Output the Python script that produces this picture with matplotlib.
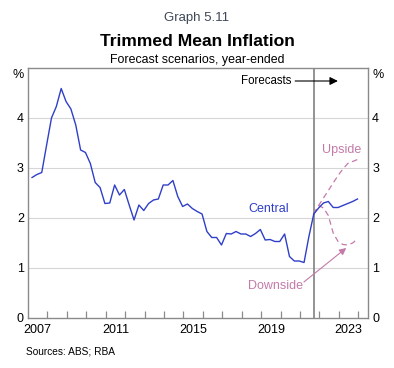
import numpy as np
import pandas as pd
import matplotlib
matplotlib.use('Agg')
from matplotlib import pyplot as plt

plt.rcParams['font.family'] = ['Liberation Sans', 'DejaVu Sans']

# year-ended trimmed mean inflation, quarterly, Mar 2007 - Sep 2021
hist_values = [2.81, 2.87, 2.91, 3.46,
               4.00, 4.23, 4.59, 4.33,
               4.18, 3.86, 3.36, 3.31,
               3.09, 2.71, 2.61, 2.29,
               2.30, 2.66, 2.46, 2.57,
               2.26, 1.96, 2.26, 2.15,
               2.29, 2.36, 2.38, 2.66,
               2.66, 2.75, 2.43, 2.23,
               2.28, 2.19, 2.13, 2.08,
               1.73, 1.61, 1.61, 1.46,
               1.69, 1.68, 1.73, 1.68,
               1.68, 1.63, 1.69, 1.77,
               1.56, 1.57, 1.53, 1.53,
               1.68, 1.23, 1.14, 1.14,
               1.11, 1.63, 2.08]
# forecast scenarios, Dec 2021 - Dec 2023
central = [2.20, 2.30, 2.33, 2.21, 2.21, 2.25, 2.29, 2.33, 2.38]
upside = [2.25, 2.40, 2.55, 2.70, 2.85, 2.98, 3.09, 3.13, 3.17]
downside = [2.25, 2.20, 2.05, 1.70, 1.53, 1.47, 1.46, 1.50, 1.58]

year_labels = ['2007', '2011', '2015', '2019', '2023']
y_ticks = [0, 1, 2, 3, 4]

BLUE = '#2f3fc8'
PINK = '#c47aa8'
GREY = '#8a8a8a'


def dec_year(dates):
    return np.array([d.year + (d.month - 0.5) / 12 for d in dates])


hist_dates = pd.date_range('2007-03-31', periods=len(hist_values), freq='QE')
fc_dates = pd.date_range(hist_dates[-1], periods=len(central) + 1, freq='QE')
x_hist = dec_year(hist_dates)
x_fc = dec_year(fc_dates)
last = hist_values[-1]

fig = plt.figure(figsize=(3.94, 3.68), dpi=100)
ax = fig.add_axes([28 / 394, 1 - 318 / 368, 340 / 394, 250 / 368])

ax.set_xlim(2007, 2024.5)
ax.set_ylim(0, 5)

for v in y_ticks[1:]:
    ax.axhline(v, color='#d6d6d6', lw=0.8, zorder=0)

ax.plot(x_hist, hist_values, color=BLUE, lw=1.0, zorder=3)
ax.plot(x_fc, [last] + central, color=BLUE, lw=1.0, zorder=3)
ax.plot(x_fc, [last] + upside, color=PINK, lw=0.9, ls=(0, (4.5, 3)), zorder=2)
ax.plot(x_fc, [last] + downside, color=PINK, lw=0.9, ls=(0, (4.5, 3)), zorder=2)

ax.axvline(x_hist[-1], color=GREY, lw=1.3, zorder=1)

for s in ax.spines.values():
    s.set_color(GREY)
    s.set_linewidth(1.0)

# x axis: year boundaries as inside ticks, labels mid-year
ax.set_xticks(np.arange(2008, 2025), minor=True)
ax.set_xticks([int(y) + 0.5 for y in year_labels])
ax.set_xticklabels(year_labels, fontsize=9)
ax.tick_params(axis='x', which='major', length=0, pad=4)
ax.tick_params(axis='x', which='minor', direction='in', length=5,
               color=GREY, width=0.9)

ax.set_yticks(y_ticks)
ax.set_yticklabels([str(v) for v in y_ticks], fontsize=9)
ax.tick_params(axis='y', length=0, pad=3, labelleft=True, labelright=True)

ax.text(-0.012, 4.86, '%', transform=ax.get_yaxis_transform(),
        ha='right', va='center', fontsize=9)
ax.text(1.012, 4.86, '%', transform=ax.get_yaxis_transform(),
        ha='left', va='center', fontsize=9)

ax.text(2020.55, 4.74, 'Forecasts', ha='right', va='center', fontsize=8.3)
ax.annotate('', xy=(2022.95, 4.74), xytext=(2020.75, 4.74),
            arrowprops=dict(arrowstyle='-|>', color='black', lw=0.8,
                            mutation_scale=12, shrinkA=0, shrinkB=0))

ax.text(2019.37, 2.19, 'Central', color=BLUE, ha='center', va='center',
        fontsize=9)
ax.text(2023.16, 3.36, 'Upside', color=PINK, ha='center', va='center',
        fontsize=9)
ax.text(2021.15, 0.646, 'Downside', color=PINK, ha='right', va='center',
        fontsize=9)
ax.annotate('', xy=(2023.38, 1.4), xytext=(2021.2, 0.72),
            arrowprops=dict(arrowstyle='-|>', color=PINK, lw=0.8,
                            mutation_scale=10, shrinkA=0, shrinkB=0))

fig.text(0.5, 1 - 17.5 / 368, 'Graph 5.11', ha='center', va='center',
         fontsize=9.5, color='#3f4756')
fig.text(0.5, 1 - 41 / 368, 'Trimmed Mean Inflation', ha='center',
         va='center', fontsize=12.6, fontweight='bold')
fig.text(0.5, 1 - 59.5 / 368, 'Forecast scenarios, year-ended',
         ha='center', va='center', fontsize=8.9)
fig.text(26 / 394, 1 - 352 / 368, 'Sources: ABS; RBA', ha='left',
         va='center', fontsize=7.3)

fig.savefig('out.png', dpi=100)
